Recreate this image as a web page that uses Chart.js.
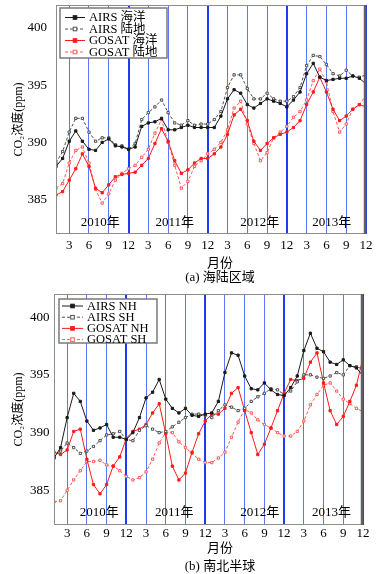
<!DOCTYPE html>
<html><head><meta charset="utf-8">
<script src="https://cdn.jsdelivr.net/npm/chart.js@4/dist/chart.umd.min.js"></script>
<style>
html,body{margin:0;padding:0;background:#fff;}
body{width:382px;height:574px;position:relative;overflow:hidden;font-family:"Liberation Serif","DejaVu Serif","Noto Sans CJK SC",serif;}
canvas{position:absolute;left:0;}
.t{position:absolute;left:0;width:440px;text-align:center;font-size:13px;color:#000;line-height:13px;white-space:nowrap;}
</style></head><body>
<canvas id="ca" width="382" height="262" style="top:0;width:382px;height:262px"></canvas>
<canvas id="cb" width="382" height="258" style="top:286px;width:382px;height:258px"></canvas>
<div class="t" style="top:256px">月份</div>
<div class="t" style="top:270px">(a) 海陆区域</div>
<div class="t" style="top:541px">月份</div>
<div class="t" style="top:559px">(b) 南北半球</div>
<script>
// ---------- data ----------
const months = [1,2,3,4,5,6,7,8,9,10,11,12,13,14,15,16,17,18,19,20,21,22,23,24,25,26,27,28,29,30,31,32,33,34,35,36,37,38,39,40,41,42,43,44,45,46,47,48];
const xTickMonths = [3,6,9,12,15,18,21,24,27,30,33,36,39,42,45,48];
const yTickValues = [385,390,395,400];
const yearLabels = ['2010年','2011年','2012年','2013年'];

// (a) 海陆区域
const seriesNamesA = ['AIRS 海洋','AIRS 陆地','GOSAT 海洋','GOSAT 陆地'];
const airsOcean = [387.9,388.6,390.1,391.0,390.1,389.4,389.3,390.0,390.3,389.7,389.6,389.4,389.6,391.4,391.7,391.8,392.1,391.1,391.1,391.3,391.5,391.3,391.3,391.3,391.3,392.3,393.8,394.6,394.3,393.3,393.0,393.4,393.8,393.6,393.4,393.1,393.7,394.4,396.0,396.9,395.7,395.4,395.5,395.6,395.6,395.8,395.6,395.1];
const airsLand = [388.2,389.2,390.9,392.1,392.1,390.9,390.1,390.4,390.4,389.8,389.7,389.4,389.9,392.0,392.6,393.1,393.7,392.6,391.7,391.5,391.9,391.5,391.6,391.6,392.0,392.7,394.8,395.9,395.9,394.7,393.8,393.8,394.3,393.8,393.6,393.6,394.0,394.8,396.7,397.6,397.5,396.8,396.0,395.8,396.3,395.8,395.7,395.9];
const gosatOcean = [385.4,385.7,386.7,387.7,389.0,387.9,386.0,385.6,386.3,387.0,387.2,387.3,387.4,388.0,388.6,389.9,391.2,390.1,388.4,387.3,387.6,388.2,388.6,388.6,389.0,389.6,390.7,392.4,392.9,391.9,390.1,389.3,389.9,390.4,390.7,390.9,391.3,391.9,393.3,394.4,395.7,394.4,392.9,391.9,392.3,392.9,393.3,393.1];
const gosatLand = [386.0,386.4,388.2,389.3,389.6,388.2,385.9,384.7,385.5,386.7,387.3,387.7,388.0,388.7,389.4,390.8,392.0,390.0,388.0,386.0,386.6,387.9,388.4,389.0,389.4,390.0,391.1,393.0,393.6,391.6,389.9,388.4,389.1,390.4,390.9,391.4,392.2,392.7,393.7,395.4,396.4,395.3,392.7,390.9,391.6,392.9,393.3,394.1];

// (b) 南北半球
const seriesNamesB = ['AIRS NH','AIRS SH','GOSAT NH','GOSAT SH'];
const airsNH = [387.8,388.7,391.3,393.4,392.7,391.0,390.2,390.4,390.7,389.6,389.6,389.4,390.0,391.3,393.0,393.5,394.6,392.9,392.1,391.7,392.1,391.5,391.4,391.6,391.7,392.7,395.2,396.9,396.7,394.9,393.8,393.7,394.3,393.7,393.3,393.2,393.9,394.9,397.1,398.6,397.3,397.0,396.1,395.9,396.3,395.8,395.6,394.9];
const airsSH = [387.9,388.4,389.1,388.7,388.2,388.4,388.8,389.3,389.8,389.9,390.1,389.4,389.3,390.2,390.6,390.3,390.0,390.1,390.5,390.9,391.3,391.6,391.6,391.5,391.3,391.9,392.4,392.2,391.9,392.1,392.7,393.1,393.4,393.8,393.7,393.3,393.6,394.4,395.0,395.0,394.8,394.7,394.9,395.2,395.0,395.8,395.7,395.5];
const gosatNH = [388.3,388.1,388.5,390.1,390.3,387.7,385.5,384.7,385.5,387.1,387.9,389.5,390.1,390.3,390.7,391.7,392.5,389.9,387.1,385.9,386.5,388.3,389.9,391.0,391.6,391.6,392.1,393.4,393.9,391.9,390.0,388.1,389.0,390.4,391.9,393.4,394.6,394.5,394.7,396.1,396.9,394.3,391.9,390.7,391.4,392.7,394.1,396.5];
const gosatSH = [384.0,384.1,385.0,385.9,386.7,387.5,387.5,387.6,387.2,387.1,386.7,386.2,385.9,386.1,386.6,387.7,389.1,390.0,390.0,389.2,388.7,388.2,387.7,387.4,387.4,387.8,388.3,389.6,390.9,392.0,391.7,391.1,390.7,390.4,390.0,389.7,389.7,390.1,391.0,392.4,393.3,394.1,394.3,393.6,392.9,392.5,392.1,391.8];

// ---------- styling / drawing ----------
const FONT = '"Liberation Serif","DejaVu Serif","Noto Sans CJK SC",serif';
Chart.defaults.font.family = FONT;
Chart.defaults.color = '#000';

const styles = [
  {borderColor:'#1a1a1a', borderDash:[], pointBackgroundColor:'#1a1a1a', pointBorderColor:'#1a1a1a'},
  {borderColor:'#505050', borderDash:[3,2], pointBackgroundColor:'#ffffff', pointBorderColor:'#505050'},
  {borderColor:'#ff1a1a', borderDash:[], pointBackgroundColor:'#ff1a1a', pointBorderColor:'#ff1a1a'},
  {borderColor:'#ff5a5a', borderDash:[3,2], pointBackgroundColor:'#ffffff', pointBorderColor:'#ff5a5a'}
];

function makeDatasets(names, arrays){
  return arrays.map((arr,i)=>Object.assign({
    label: names[i], data: arr, borderWidth: 1, pointStyle:'rect', pointRadius:1.6,
    pointBorderWidth:1, tension:0, fill:false
  }, styles[i]));
}

const decor = {
  id:'decor',
  afterDraw(chart, args, o){
    const {ctx, chartArea:a, scales} = chart;
    ctx.save();
    // year labels
    ctx.font = '13px ' + FONT;
    ctx.fillStyle = '#000'; ctx.textAlign='center'; ctx.textBaseline='middle';
    yearLabels.forEach((t,i)=>{
      ctx.fillText(t, scales.x.getPixelForValue(o.yearX[i]), scales.y.getPixelForValue(o.yearY));
    });
    // frame
    ctx.strokeStyle = '#8c8c8c'; ctx.lineWidth = 1;
    ctx.strokeRect(a.left+0.5, a.top+0.5, a.width-1, a.height-1);
    ctx.strokeStyle = '#606060'; ctx.lineWidth = 2.5;
    ctx.beginPath(); ctx.moveTo(a.right-1, a.top); ctx.lineTo(a.right-1, a.bottom); ctx.stroke();
    // legend box
    const L = o.legend;
    const x0 = a.left + L.dx, y0 = a.top + L.dy;
    ctx.fillStyle = '#fff'; ctx.fillRect(x0, y0, L.w, L.h);
    ctx.strokeStyle = '#7a7a7a'; ctx.lineWidth = 1.5; ctx.strokeRect(x0, y0, L.w, L.h);
    chart.data.datasets.forEach((ds,i)=>{
      const y = y0 + L.row0 + i*L.rowH;
      ctx.strokeStyle = ds.borderColor; ctx.lineWidth = 1; ctx.setLineDash(ds.borderDash);
      ctx.beginPath(); ctx.moveTo(x0+L.lx0, y); ctx.lineTo(x0+L.lx1, y); ctx.stroke();
      ctx.setLineDash([]);
      const mx = x0 + (L.lx0+L.lx1)/2;
      ctx.fillStyle = ds.pointBackgroundColor; ctx.fillRect(mx-1.8, y-1.8, 3.6, 3.6);
      ctx.strokeStyle = ds.pointBorderColor; ctx.strokeRect(mx-1.8, y-1.8, 3.6, 3.6);
      ctx.fillStyle = '#000'; ctx.textAlign = 'left'; ctx.textBaseline = 'middle';
      ctx.font = '12.5px ' + FONT;
      ctx.fillText(ds.label, x0 + L.tx, y+0.5);
    });
    ctx.restore();
  }
};

function makeChart(id, names, arrays, o){
  return new Chart(document.getElementById(id), {
    type:'line',
    data:{labels: months, datasets: makeDatasets(names, arrays)},
    options:{
      responsive:false, animation:false, devicePixelRatio:1, events:[],
      layout:{padding:{top:o.padTop, right:o.padRight, left:0, bottom:0}},
      scales:{
        x:{type:'linear', min:1, max:48,
          afterBuildTicks: s=>{ s.ticks = xTickMonths.map(v=>({value:v})); },
          afterFit: s=>{ s.height = o.xh; s.paddingLeft = 0; s.paddingRight = 0; },
          grid:{drawTicks:false,
            color: c=> (c.tick && c.tick.value%12===0) ? '#1e3af5' : '#5a76f5',
            lineWidth: c=> (c.tick && c.tick.value%12===0) ? 2 : 1},
          border:{display:false},
          ticks:{padding:o.xpad, autoSkip:false, maxRotation:0, font:{size:13}, color:'#000',
            callback: v=> ((v-1)%12)+1}
        },
        y:{min:382, max:402,
          afterBuildTicks: s=>{ s.ticks = yTickValues.map(v=>({value:v})); },
          afterFit: s=>{ s.width = o.yw; s.paddingTop = 0; s.paddingBottom = 0; },
          grid:{display:false, drawTicks:false}, border:{display:false},
          ticks:{padding:o.ypad, font:{size:13}, color:'#000'},
          title:{display:true, text:'CO₂浓度(ppm)', font:{size:12}, color:'#000', padding:{top:12, bottom:0}}
        }
      },
      plugins:{legend:{display:false}, tooltip:{enabled:false},
        decor:{yearX:o.yearX, yearY:o.yearY, legend:o.legend}}
    },
    plugins:[decor]
  });
}

makeChart('ca', seriesNamesA, [airsOcean, airsLand, gosatOcean, gosatLand], {
  padTop:2, padRight:16, xh:28, yw:56, xpad:4, ypad:9,
  yearX:[7.7,19.0,31.9,42.8], yearY:383.0,
  legend:{dx:4, dy:3, w:107, h:50, row0:9.5, rowH:11.5, lx0:5, lx1:25, tx:29}
});
makeChart('cb', seriesNamesB, [airsNH, airsSH, gosatNH, gosatSH], {
  padTop:8, padRight:19, xh:19, yw:54, xpad:1, ypad:4.5,
  yearX:[7.9,19.3,32.3,43.2], yearY:383.1,
  legend:{dx:5, dy:5, w:98, h:44, row0:7, rowH:11.2, lx0:3, lx1:24, tx:28}
});
</script>
</body></html>
